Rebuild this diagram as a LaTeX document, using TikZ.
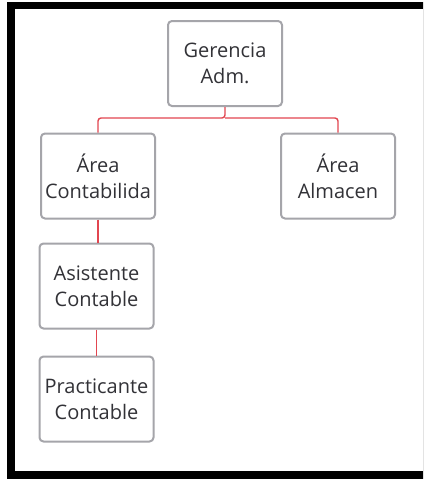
\documentclass[tikz,border=0pt]{standalone}
\usepackage{fontspec}
\setmainfont{Open Sans}
\usepackage{tikz}
\usetikzlibrary{calc}
\usetikzlibrary{positioning}
\definecolor{boxgray}{RGB}{165,165,170}
\definecolor{linkred}{RGB}{226,70,80}
\definecolor{textgray}{RGB}{50,50,55}

\begin{document}
\begin{tikzpicture}[x=1pt,y=-1pt,
    puesto/.style={draw=boxgray, line width=2pt, rounded corners=4pt, fill=white,
      minimum width=114pt, minimum height=85pt, align=center, inner sep=0pt,
      text=textgray, font=\fontsize{20}{26}\selectfont},
    enlace/.style={draw=linkred, line width=1.4pt, rounded corners=3pt}]
    \useasboundingbox (0,0) rectangle (423,479);
    \clip (0,0) rectangle (423,479);
    % marco negro
    \fill[black] (7,2) rectangle (440,500);
    \fill[white] (15,9) rectangle (440,471);
    \node[puesto] (ger)  at (225,63.5) {Gerencia\\Adm.};
    \node[puesto] (cont) at (98,176)   {Área\\Contabilida};
    \node[puesto] (alm)  at (338,176)  {Área\\Almacen};
    \node[puesto] (asis) at (96.5,286) {Asistente\\Contable};
    \node[puesto] (prac) at (96.5,399) {Practicante\\Contable};
    \coordinate (bus) at (0,118);
    \draw[enlace] (ger.south) -- (ger.south |- bus) -| (cont.north);
    \draw[enlace] (ger.south |- bus) -| (alm.north);
    \draw[enlace] (cont.south) -- (cont.south |- asis.north);
    \draw[enlace] (asis.south) -- (prac.north);
  \end{tikzpicture}
\end{document}
